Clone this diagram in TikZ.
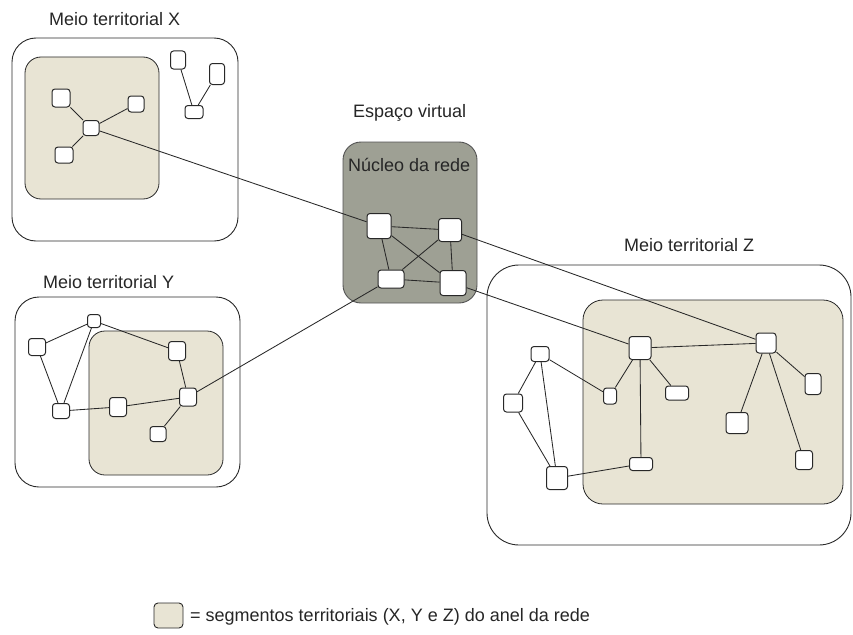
\documentclass[tikz,border=0pt]{standalone}
\usepackage{fontspec}
\setmainfont{Liberation Sans}
\pgfdeclarelayer{back}
\pgfdeclarelayer{edges}
\pgfsetlayers{back,edges,main}
\definecolor{beige}{RGB}{232,228,212}
\definecolor{coregray}{RGB}{158,160,148}
\definecolor{ink}{RGB}{40,40,40}
\begin{document}
\begin{tikzpicture}[x=1pt,y=-1pt,
  nd/.style={draw=ink,fill=white,rounded corners=3pt,line width=1pt,inner sep=0pt,minimum width=#1},
  nd/.default=16pt,
  outerbox/.style={draw=ink,line width=0.9pt,rounded corners=24pt},
  segbox/.style={draw=ink,fill=beige,line width=0.8pt,rounded corners=16pt},
  lnk/.style={draw=ink,line width=0.85pt},
  lbl/.style={font=\fontsize{18}{20}\selectfont,text=black!85,inner sep=0pt,anchor=west}]
\useasboundingbox (0,0) rectangle (853,634);

% ---- boxes ----
\begin{pgfonlayer}{back}
\draw[outerbox] (12,38) rectangle (238,241);
\draw[segbox] (25,57) rectangle (159,199);
\draw[outerbox] (15,297) rectangle (240,487);
\draw[segbox] (89,331) rectangle (223,475);
\draw[outerbox,rounded corners=32pt] (487,265) rectangle (851,545);
\draw[segbox,rounded corners=20pt] (583,300) rectangle (843,504);
\draw[draw=ink!80,fill=coregray,line width=0.9pt,rounded corners=18pt] (343,142) rectangle (477,303);
\end{pgfonlayer}

% ---- labels ----
\node[lbl] (lx) at (49,19) {Meio territorial X};
\node[lbl] (ly) at (43,282) {Meio territorial Y};
\node[lbl] (lz) at (624,245) {Meio territorial Z};
\node[lbl] (lv) at (353,113) {Espaço virtual};
\node[lbl] (lc) at (348,165) {Núcleo da rede};

% ---- X nodes ----
\node[nd=18pt,minimum height=18pt] (x1) at (61,98) {};
\node[nd=16pt,minimum height=16pt] (x2) at (136,104) {};
\node[nd=16pt,minimum height=15pt] (xh) at (91,128) {};
\node[nd=18pt,minimum height=16pt] (x3) at (64,155) {};
\node[nd=15pt,minimum height=18pt] (xa) at (178,60) {};
\node[nd=15pt,minimum height=21pt] (xb) at (217,74) {};
\node[nd=18pt,minimum height=13pt] (xc) at (194,112) {};

% ---- Y nodes ----
\node[nd=17pt,minimum height=17pt] (y1) at (37,347) {};
\node[nd=13pt,minimum height=13pt] (y2) at (94,321) {};
\node[nd=17pt,minimum height=19pt] (y3) at (177,351) {};
\node[nd=17pt,minimum height=15pt] (y4) at (61,411) {};
\node[nd=17pt,minimum height=19pt] (y5) at (118,407) {};
\node[nd=17pt,minimum height=18pt] (y6) at (188,397) {};
\node[nd=16pt,minimum height=15pt] (y7) at (158,434) {};

% ---- core nodes ----
\node[nd=24pt,minimum height=25pt] (c1) at (379,226) {};
\node[nd=23pt,minimum height=23pt] (c2) at (450,230) {};
\node[nd=26pt,minimum height=18pt] (c3) at (391,279) {};
\node[nd=26pt,minimum height=25pt] (c4) at (453,283) {};

% ---- Z nodes ----
\node[nd=22pt,minimum height=23pt] (z1) at (640,348) {};
\node[nd=20pt,minimum height=20pt] (z2) at (766,343) {};
\node[nd=13pt,minimum height=16pt] (z3) at (610,396) {};
\node[nd=23pt,minimum height=14pt] (z4) at (677,393) {};
\node[nd=16pt,minimum height=21pt] (z5) at (813,384) {};
\node[nd=22pt,minimum height=21pt] (z6) at (737,423) {};
\node[nd=17pt,minimum height=19pt] (z7) at (804,460) {};
\node[nd=23pt,minimum height=13pt] (z8) at (641,464) {};
\node[nd=18pt,minimum height=15pt] (z9) at (540,354) {};
\node[nd=19pt,minimum height=18pt] (z10) at (513,403) {};
\node[nd=21pt,minimum height=23pt] (z11) at (557,478) {};

% ---- legend ----
\node[draw=ink,fill=beige,rounded corners=4pt,line width=0.9pt,minimum width=29pt,minimum height=25pt,inner sep=0pt] (leg) at (168.5,615.5) {};
\node[lbl] (legt) at (190,617) {= segmentos territoriais (X, Y e Z) do anel da rede};

% ---- links ----
\begin{pgfonlayer}{edges}
\draw[lnk] (xh) -- (x1);
\draw[lnk] (xh) -- (x2);
\draw[lnk] (xh) -- (x3);
\draw[lnk] (xa) -- (xc);
\draw[lnk] (xb) -- (xc);
\draw[lnk] (y1) -- (y2);
\draw[lnk] (y1) -- (y4);
\draw[lnk] (y2) -- (y4);
\draw[lnk] (y2) -- (y3);
\draw[lnk] (y3) -- (y6);
\draw[lnk] (y4) -- (y5);
\draw[lnk] (y5) -- (y6);
\draw[lnk] (y6) -- (y7);
\draw[lnk] (c1) -- (c2);
\draw[lnk] (c1) -- (c3);
\draw[lnk] (c1) -- (c4);
\draw[lnk] (c2) -- (c3);
\draw[lnk] (c2) -- (c4);
\draw[lnk] (c3) -- (c4);
\draw[lnk] (xh) -- (c1);
\draw[lnk] (y6) -- (c3);
\draw[lnk] (c2) -- (z2);
\draw[lnk] (c4) -- (z1);
\draw[lnk] (z1) -- (z2);
\draw[lnk] (z1) -- (z3);
\draw[lnk] (z1) -- (z4);
\draw[lnk] (z1) -- (z8);
\draw[lnk] (z2) -- (z5);
\draw[lnk] (z2) -- (z6);
\draw[lnk] (z2) -- (z7);
\draw[lnk] (z9) -- (z3);
\draw[lnk] (z9) -- (z10);
\draw[lnk] (z9) -- (z11);
\draw[lnk] (z10) -- (z11);
\draw[lnk] (z11) -- (z8);
\end{pgfonlayer}
\end{tikzpicture}
\end{document}
